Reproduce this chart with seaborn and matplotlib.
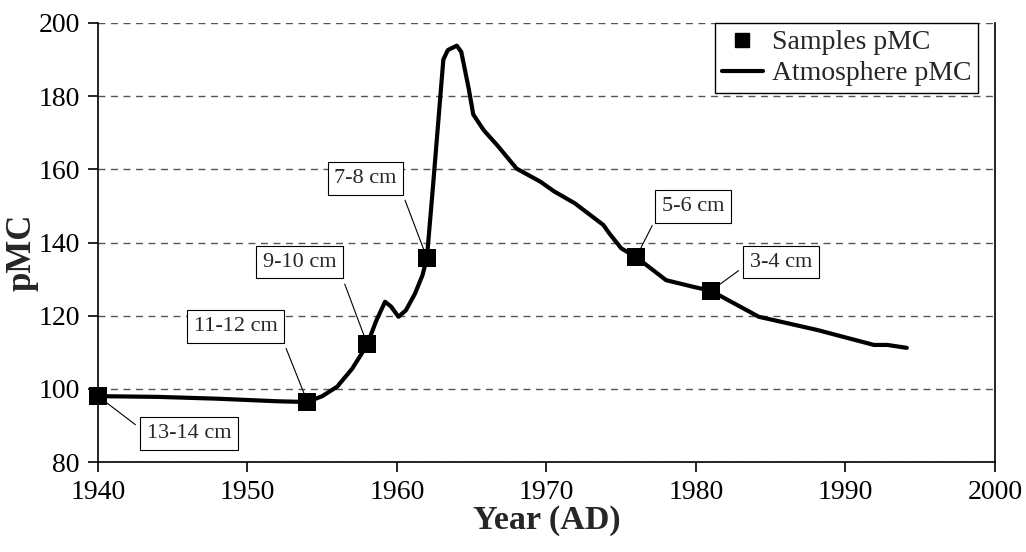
import numpy as np
import pandas as pd
import seaborn as sns
import matplotlib.pyplot as plt
from matplotlib.lines import Line2D

# Sample points (year, pMC) with depth labels
sample_years = [1940, 1954, 1958, 1962, 1976, 1981]
sample_pmc = [98.0, 96.5, 112.3, 135.8, 136.0, 126.8]
sample_labels = ["13-14 cm", "11-12 cm", "9-10 cm", "7-8 cm", "5-6 cm", "3-4 cm"]

# Atmospheric bomb curve
atm_years = [1940, 1944, 1948, 1952, 1954, 1955, 1956, 1957, 1958, 1958.6,
             1959.2, 1959.6, 1960.1, 1960.6, 1961.2, 1961.7, 1962, 1962.4,
             1962.9, 1963.1, 1963.4, 1964.0, 1964.3, 1964.8, 1965.1, 1965.8,
             1966.7, 1968, 1969.6, 1970.5, 1971.9, 1973.8, 1974.2, 1975.0,
             1976, 1978, 1979.8, 1981, 1984.2, 1988.1, 1991.9, 1992.8, 1994.1]
atm_pmc = [98.0, 97.8, 97.3, 96.6, 96.4, 98.0, 100.6, 105.5, 112.0, 118.5,
           123.8, 122.5, 119.7, 121.5, 126.0, 131.0, 135.8, 155.0,
           180.0, 190.0, 192.6, 193.8, 192.1, 182.0, 175.0, 170.7,
           166.6, 160.2, 156.6, 154.0, 150.7, 144.8, 142.5, 138.4,
           136.0, 129.7, 127.9, 126.8, 119.7, 116.1, 112.0, 112.0, 111.2]

# label box centres (data coords) and which side the leader line leaves from
label_pos = [(1946.1, 87.8), (1949.2, 117.0), (1953.5, 134.6),
             (1957.9, 157.5), (1979.8, 149.8), (1985.7, 134.6)]
label_side = [(0, 0.5), (1, 0.5), (1, 0.5), (1, 0.5), (0, 0.5), (0, 0.5)]

sns.set_theme(style="white")
plt.rcParams['font.family'] = ['Liberation Serif', 'DejaVu Serif']

fig = plt.figure(figsize=(10.26, 5.52), dpi=100)
ax = fig.add_axes([98 / 1026, 1 - 462 / 552, 897 / 1026, 439 / 552])

atm = pd.DataFrame({'year': atm_years, 'pmc': atm_pmc})
smp = pd.DataFrame({'year': sample_years, 'pmc': sample_pmc})

sns.lineplot(data=atm, x='year', y='pmc', ax=ax, color='black', linewidth=3,
             estimator=None, sort=True, zorder=3)
sns.scatterplot(data=smp, x='year', y='pmc', ax=ax, color='black', marker='s',
                s=150, edgecolor='black', linewidth=0, zorder=4, clip_on=False)

for (x, y), lab, (tx, ty), rp in zip(zip(sample_years, sample_pmc), sample_labels,
                                     label_pos, label_side):
    ax.annotate(lab, xy=(x, y), xytext=(tx, ty), fontsize=16, ha='center', va='center',
                bbox=dict(boxstyle='square,pad=0.3', fc='white', ec='black', lw=0.8),
                arrowprops=dict(arrowstyle='-', color='black', lw=0.8, relpos=rp,
                                shrinkA=4, shrinkB=0),
                zorder=3.5)

ax.set_xlim(1940, 2000)
ax.set_ylim(80, 200)
ax.set_xticks(np.arange(1940, 2001, 10))
ax.set_yticks(np.arange(80, 201, 20))
ax.yaxis.grid(True, linestyle=(0, (5, 4)), color='#555555', linewidth=1)
ax.set_axisbelow(True)

for side in ['left', 'bottom', 'right']:
    ax.spines[side].set_visible(True)
    ax.spines[side].set_color('black')
    ax.spines[side].set_linewidth(1.2)
ax.spines['top'].set_visible(False)

ax.tick_params(axis='both', direction='out', length=7, width=1.2, color='black',
               labelsize=20, labelcolor='black', bottom=True, left=True, pad=6)
ax.set_xlabel('Year (AD)', fontsize=24.5, fontweight='bold', labelpad=0)
ax.set_ylabel('pMC', fontsize=25, fontweight='bold')
ax.yaxis.set_label_coords(-0.066, 0.478)

handles = [Line2D([], [], color='black', marker='s', linestyle='none', markersize=10),
           Line2D([], [], color='black', linewidth=3)]
leg = ax.legend(handles, ['Samples pMC', 'Atmosphere pMC'], loc='upper right',
                bbox_to_anchor=(0.981, 1.0), borderaxespad=0, fontsize=20,
                frameon=True, fancybox=False, edgecolor='black', handlelength=1.5,
                handletextpad=0.3, borderpad=0.25, labelspacing=0.2)
leg.get_frame().set_linewidth(1)
leg.get_frame().set_alpha(1)

fig.savefig('out.png', dpi=100)
